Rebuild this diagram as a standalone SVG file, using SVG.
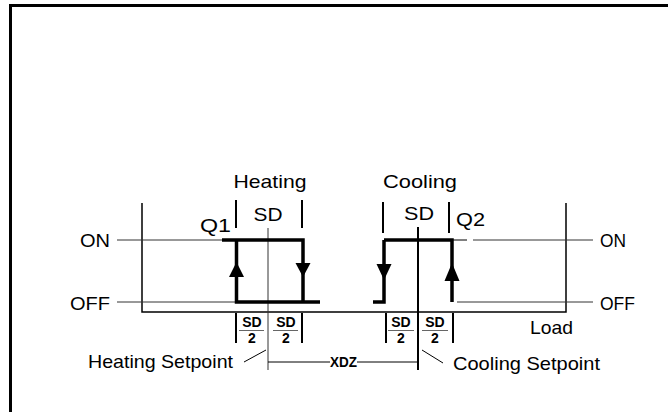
<svg xmlns="http://www.w3.org/2000/svg" width="668" height="412" viewBox="0 0 668 412">
<style>
.t{font-family:"Liberation Sans",Arial,sans-serif;font-size:19px;fill:#000}
.b{font-family:"Liberation Sans",Arial,sans-serif;font-size:14px;font-weight:bold;fill:#000}
.thin{stroke:#000;stroke-width:1;fill:none}
.gray{stroke:#333;stroke-width:1;fill:none}
.frame{stroke:#000;stroke-width:1.5;fill:none}
.thick{stroke:#000;stroke-width:3.5;fill:none}
.tick{stroke:#000;stroke-width:2;fill:none}
.frac{stroke:#666;stroke-width:1;fill:none}
</style>
<rect x="0" y="0" width="668" height="412" fill="#fff"/>
<path d="M10.5,412 V5.5 H668" stroke="#000" stroke-width="3" fill="none"/>
<g id="connectors">
  <path class="frame" d="M142,203 V312 H566 V203"/>
  <path class="gray" d="M117,240 H225"/>
  <path class="gray" d="M117,302 H236"/>
  <path class="gray" d="M473,240 H593"/>
  <path class="gray" d="M457,302 H593"/>
</g>
<g id="heating">
  <text class="t" x="270" y="188" text-anchor="middle" textLength="73" lengthAdjust="spacingAndGlyphs">Heating</text>
  <path class="tick" d="M236,200 V228 M302,200 V228"/>
  <text class="t" x="268" y="221" text-anchor="middle" textLength="29" lengthAdjust="spacingAndGlyphs">SD</text>
  <text class="t" x="200" y="232" textLength="31" lengthAdjust="spacingAndGlyphs">Q1</text>
  <path class="gray" d="M268,228 V370"/>
  <path class="thick" d="M222,240 H303 V302 M236.5,240 V302 H320"/>
  <polygon points="236.5,262 229,277 244,277" fill="#000"/>
  <polygon points="303,277 295.5,263 310.5,263" fill="#000"/>
</g>
<g id="cooling">
  <text class="t" x="420" y="188" text-anchor="middle" textLength="74" lengthAdjust="spacingAndGlyphs">Cooling</text>
  <path class="tick" d="M383,202 V233 M449,202 V233"/>
  <text class="t" x="419" y="220" text-anchor="middle" textLength="30" lengthAdjust="spacingAndGlyphs">SD</text>
  <text class="t" x="456" y="226" textLength="29" lengthAdjust="spacingAndGlyphs">Q2</text>
  <path class="tick" d="M418,227 V370"/>
  <path class="thick" d="M384,240 H452 V302 M384,240 V302 H373"/>
  <path class="thin" d="M452,240 H467"/>
  <polygon points="384,280 376.5,264 391.5,264" fill="#000"/>
  <polygon points="452,263 444.5,281 459.5,281" fill="#000"/>
</g>
<g id="labels">
  <text class="t" x="80" y="247" textLength="30" lengthAdjust="spacingAndGlyphs">ON</text>
  <text class="t" x="70" y="310" textLength="40" lengthAdjust="spacingAndGlyphs">OFF</text>
  <text class="t" x="600" y="247" textLength="26" lengthAdjust="spacingAndGlyphs">ON</text>
  <text class="t" x="600" y="310" textLength="35" lengthAdjust="spacingAndGlyphs">OFF</text>
  <text class="t" x="530" y="334" textLength="43" lengthAdjust="spacingAndGlyphs">Load</text>
</g>
<g id="heating-sd2">
  <path class="tick" d="M236,313 V343 M302,313 V343"/>
  <text class="b" x="252" y="327" text-anchor="middle">SD</text>
  <path class="frac" d="M239,330.5 H264 M273,330.5 H298"/>
  <text class="b" x="252" y="343" text-anchor="middle">2</text>
  <text class="b" x="286" y="327" text-anchor="middle">SD</text>
  <text class="b" x="286" y="343" text-anchor="middle">2</text>
</g>
<g id="cooling-sd2">
  <path class="tick" d="M386,313 V343 M453,313 V343"/>
  <text class="b" x="401" y="327" text-anchor="middle">SD</text>
  <path class="frac" d="M388,330.5 H414 M422,330.5 H448"/>
  <text class="b" x="401" y="343" text-anchor="middle">2</text>
  <text class="b" x="435" y="327" text-anchor="middle">SD</text>
  <text class="b" x="435" y="343" text-anchor="middle">2</text>
</g>
<g id="setpoints">
  <text class="t" x="233" y="368" text-anchor="end" textLength="145" lengthAdjust="spacingAndGlyphs">Heating Setpoint</text>
  <path class="thin" d="M244,362 L266,350"/>
  <text class="t" x="453" y="370" textLength="147" lengthAdjust="spacingAndGlyphs">Cooling Setpoint</text>
  <path class="thin" d="M422,350 L443,363"/>
</g>
<g id="xdz">
  <path class="thin" d="M268,362 H330 M357,362 H418"/>
  <text class="b" x="343.5" y="366.5" text-anchor="middle" font-size="12" textLength="27" lengthAdjust="spacingAndGlyphs">XDZ</text>
</g>
</svg>
